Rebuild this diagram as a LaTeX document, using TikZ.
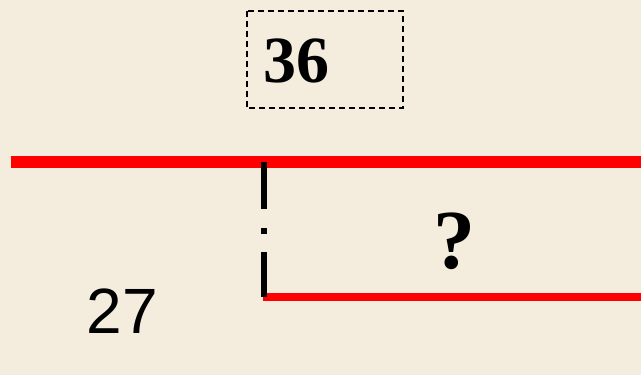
\documentclass[tikz,border=0pt]{standalone}
\usepackage{fontspec}
\setmainfont{Liberation Serif}
\setsansfont{Liberation Sans}
\definecolor{bgcream}{RGB}{244,237,222}
\definecolor{redline}{RGB}{255,0,0}
\begin{document}
\begin{tikzpicture}[x=1pt,y=-1pt,
  redbar/.style={draw=redline,line cap=butt},
  boxdash/.style={draw=black,line width=1.6pt,dash pattern=on 6pt off 4pt},
  blackmark/.style={draw=black,line width=6pt,dash pattern=on 47pt off 19pt on 6pt off 18pt on 60pt},
  bignum/.style={font=\fontsize{66}{66}\selectfont\bfseries,inner sep=0pt,anchor=base},
  question/.style={font=\fontsize{84}{84}\selectfont\bfseries,inner sep=0pt,anchor=base},
  sansnum/.style={font=\sffamily\fontsize{64}{64}\selectfont,inner sep=0pt,anchor=base}]
\fill[bgcream] (0,0) rectangle (641,375);
\useasboundingbox (0,0) rectangle (641,375);
\coordinate (tl) at (11,161.5);
\coordinate (tr) at (641,161.5);
\coordinate (bl) at (263,297);
\coordinate (br) at (641,297);
\coordinate (mtop) at (264,162);
\coordinate (mbot) at (264,297);
\draw[redbar,line width=12pt] (tl) -- (tr);
\draw[redbar,line width=8pt] (bl) -- (br);
\draw[blackmark] (mtop) -- (mbot);
\node[draw=none,minimum width=156pt,minimum height=97pt,inner sep=0pt] (box) at (325,59.5) {};
\draw[boxdash] (box.north west) rectangle (box.south east);
\node[bignum] (n36) at (296.5,82) {36};
\node[question] (q) at (454,268) {?};
\node[sansnum] (n27) at (122.5,333) {27};
\end{tikzpicture}
\end{document}
